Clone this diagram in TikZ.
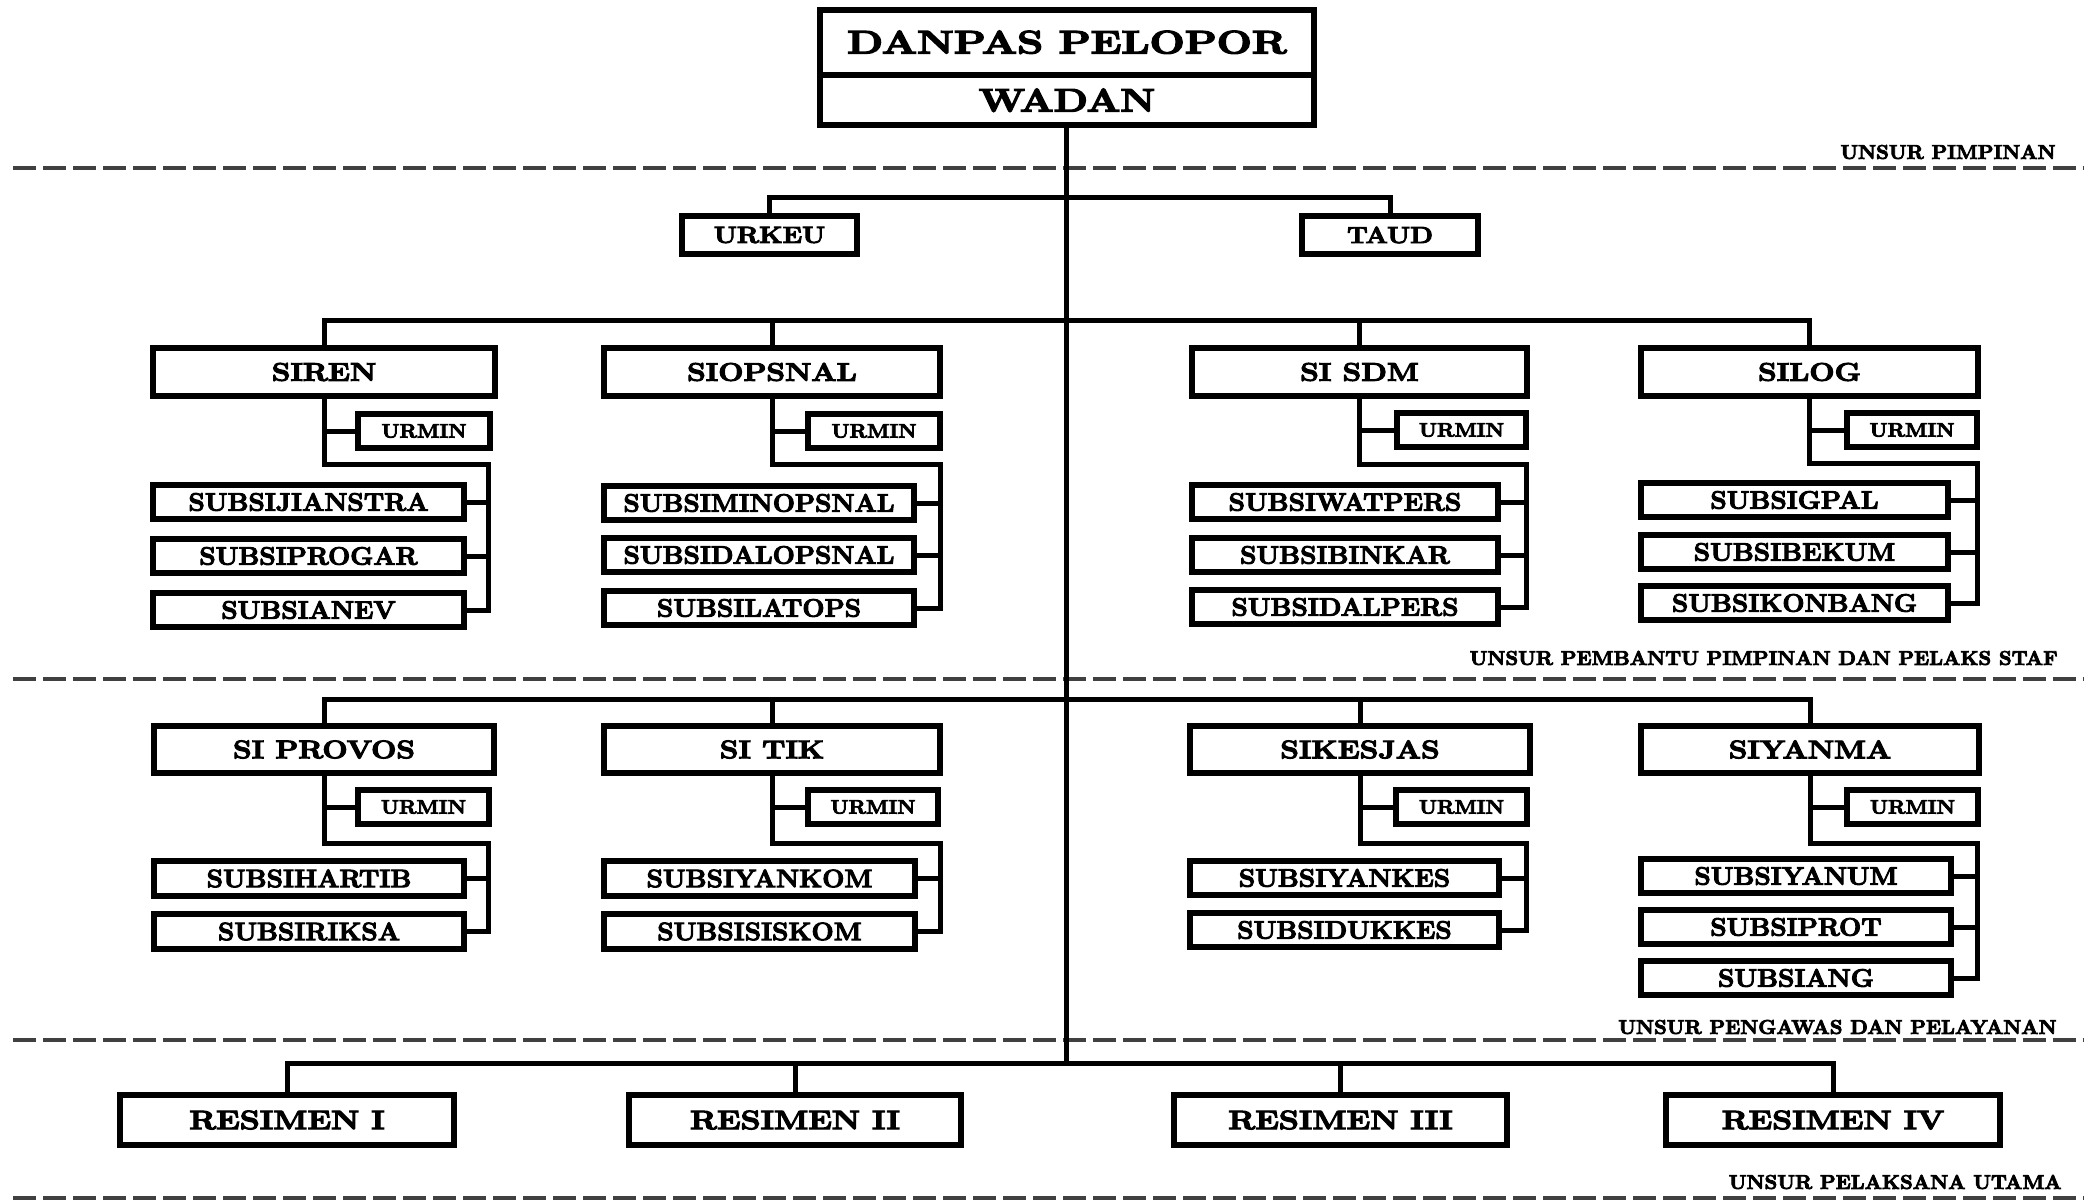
\documentclass[tikz,border=0pt]{standalone}
\usepackage{graphicx}
\usepackage{fontspec}
\setmainfont{Latin Modern Roman}[BoldFeatures={FakeBold=4}]
\newcommand{\xs}[2]{\scalebox{#1}[1]{#2}}
\tikzset{
  ln/.style={line width=2.5pt, line join=miter},
  boxst/.style={draw, line width=2.9pt, fill=white, inner sep=0pt, outer sep=0pt, align=center},
  topf/.style={font=\fontsize{16.25}{18}\selectfont\bfseries},
  headf/.style={font=\fontsize{12.75}{14}\selectfont\bfseries},
  subf/.style={font=\fontsize{12.6}{15}\selectfont\bfseries},
  urmf/.style={font=\fontsize{9.8}{12}\selectfont\bfseries},
  urkf/.style={font=\fontsize{11.65}{14}\selectfont\bfseries},
  resf/.style={font=\fontsize{13.35}{15}\selectfont\bfseries},
  labf/.style={font=\fontsize{10}{12}\selectfont\bfseries, anchor=east, inner sep=0pt},
  dashln/.style={draw=black!75, line width=1.75pt, dash pattern=on 11.25pt off 3.75pt}
}
\newcommand{\mkbox}[7]{%
  \pgfmathsetmacro\bxcx{(#2+#4)/2}\pgfmathsetmacro\bxcy{(#3+#5)/2}%
  \pgfmathsetmacro\bxw{(#4-#2-5.8)*0.5}\pgfmathsetmacro\bxh{(#5-#3-5.8)*0.5}%
  \node[boxst,#6,minimum width=\bxw pt,minimum height=\bxh pt] (#1) at (\bxcx,\bxcy) {#7};}
\newcommand{\hdtxt}[1]{\xs{1.17}{#1}}
\newcommand{\sbtxt}[1]{\xs{1.04}{#1}}
\newcommand{\rstxt}[1]{\xs{1.2}{#1}}
\begin{document}
\begin{tikzpicture}[x=0.5pt,y=-0.5pt]
\useasboundingbox (0,0) rectangle (2084,1201);
\fill[white] (0,0) rectangle (2084,1201);

% dashed separators
\draw[dashln] (13,168) -- (2084,168);
\draw[dashln] (13,679) -- (2084,679);
\draw[dashln] (13,1040) -- (2084,1040);
\draw[dashln] (13,1198) -- (2084,1198);
\node[labf] (lab1) at (2056,152) {UNSUR PIMPINAN};
\node[labf] (lab2) at (2058,658) {UNSUR PEMBANTU PIMPINAN DAN PELAKS STAF};
\node[labf] (lab3) at (2057,1027) {UNSUR PENGAWAS DAN PELAYANAN};
\node[labf] (lab4) at (2062,1182) {UNSUR PELAKSANA UTAMA};

% bars coordinates
\coordinate (bar0) at (1066,197);
\coordinate (bar1) at (1066,320);
\coordinate (bar2) at (1066,699);
\coordinate (bar3) at (1066,1063);

% main vertical (drawn first, boxes on top)
\coordinate (topbot) at (1066,126);
\draw[ln] (topbot) -- (bar3);

% top
\mkbox{danpas}{817}{7}{1317}{77.5}{topf}{\xs{1.28}{DANPAS PELOPOR}}
\mkbox{wadan}{817}{72.5}{1317}{128}{topf}{\xs{1.22}{WADAN}}

\mkbox{urkeu}{679}{213}{860}{257}{urkf}{\xs{1.14}{URKEU}}
\mkbox{taud}{1299}{213}{1481}{257}{urkf}{\xs{1.14}{TAUD}}
\draw[ln] (urkeu.north) |- (bar0) -| (taud.north);

% ===== Row 1 =====
\mkbox{siren}{150}{345}{498}{399}{headf}{\hdtxt{SIREN}}
\mkbox{siops}{601}{345}{943}{399}{headf}{\hdtxt{SIOPSNAL}}
\mkbox{sisdm}{1189}{345}{1530}{399}{headf}{\hdtxt{SI SDM}}
\mkbox{silog}{1638}{345}{1981}{399}{headf}{\hdtxt{SILOG}}
\draw[ln] (siren.north) |- (bar1) -| (silog.north);
\draw[ln] (siops.north) -- (siops.north |- bar1);
\draw[ln] (sisdm.north) -- (sisdm.north |- bar1);

% SIREN
\mkbox{sirenU}{355}{411}{493}{451}{urmf}{\sbtxt{URMIN}}
\mkbox{sirenA}{150}{482}{467}{522}{subf}{\sbtxt{SUBSIJIANSTRA}}
\mkbox{sirenB}{150}{536}{467}{576}{subf}{\sbtxt{SUBSIPROGAR}}
\mkbox{sirenC}{150}{590}{467}{630}{subf}{\sbtxt{SUBSIANEV}}
\coordinate (sirenK1) at (siren.south |- 0,464);
\coordinate (sirenK2) at (488,464);
\draw[ln] (siren.south) -- (sirenK1) -- (sirenK2) -- (sirenK2 |- sirenC.east) -- (sirenC.east);
\draw[ln] (sirenU.west) -- (sirenU.west -| siren.south);
\draw[ln] (sirenA.east) -- (sirenA.east -| sirenK2);
\draw[ln] (sirenB.east) -- (sirenB.east -| sirenK2);

% SIOPSNAL
\mkbox{siopsU}{805}{411}{943}{451}{urmf}{\sbtxt{URMIN}}
\mkbox{siopsA}{601}{483}{917}{523}{subf}{\sbtxt{SUBSIMINOPSNAL}}
\mkbox{siopsB}{601}{535}{917}{575}{subf}{\sbtxt{SUBSIDALOPSNAL}}
\mkbox{siopsC}{601}{588}{917}{628}{subf}{\sbtxt{SUBSILATOPS}}
\coordinate (siopsK1) at (siops.south |- 0,464);
\coordinate (siopsK2) at (940,464);
\draw[ln] (siops.south) -- (siopsK1) -- (siopsK2) -- (siopsK2 |- siopsC.east) -- (siopsC.east);
\draw[ln] (siopsU.west) -- (siopsU.west -| siops.south);
\draw[ln] (siopsA.east) -- (siopsA.east -| siopsK2);
\draw[ln] (siopsB.east) -- (siopsB.east -| siopsK2);

% SI SDM
\mkbox{sisdmU}{1394}{410}{1529}{450}{urmf}{\sbtxt{URMIN}}
\mkbox{sisdmA}{1189}{482}{1501}{522}{subf}{\sbtxt{SUBSIWATPERS}}
\mkbox{sisdmB}{1189}{535}{1501}{575}{subf}{\sbtxt{SUBSIBINKAR}}
\mkbox{sisdmC}{1189}{587}{1501}{627}{subf}{\sbtxt{SUBSIDALPERS}}
\coordinate (sisdmK1) at (sisdm.south |- 0,464);
\coordinate (sisdmK2) at (1526,464);
\draw[ln] (sisdm.south) -- (sisdmK1) -- (sisdmK2) -- (sisdmK2 |- sisdmC.east) -- (sisdmC.east);
\draw[ln] (sisdmU.west) -- (sisdmU.west -| sisdm.south);
\draw[ln] (sisdmA.east) -- (sisdmA.east -| sisdmK2);
\draw[ln] (sisdmB.east) -- (sisdmB.east -| sisdmK2);

% SILOG
\mkbox{silogU}{1844}{410}{1980}{450}{urmf}{\sbtxt{URMIN}}
\mkbox{silogA}{1638}{480}{1951}{520}{subf}{\sbtxt{SUBSIGPAL}}
\mkbox{silogB}{1638}{532}{1951}{572}{subf}{\sbtxt{SUBSIBEKUM}}
\mkbox{silogC}{1638}{583}{1951}{623}{subf}{\sbtxt{SUBSIKONBANG}}
\coordinate (silogK1) at (silog.south |- 0,463);
\coordinate (silogK2) at (1977,463);
\draw[ln] (silog.south) -- (silogK1) -- (silogK2) -- (silogK2 |- silogC.east) -- (silogC.east);
\draw[ln] (silogU.west) -- (silogU.west -| silog.south);
\draw[ln] (silogA.east) -- (silogA.east -| silogK2);
\draw[ln] (silogB.east) -- (silogB.east -| silogK2);

% ===== Row 2 =====
\mkbox{prov}{151}{723}{497}{776}{headf}{\hdtxt{SI PROVOS}}
\mkbox{tik}{601}{723}{943}{776}{headf}{\hdtxt{SI TIK}}
\mkbox{kes}{1187}{723}{1533}{776}{headf}{\hdtxt{SIKESJAS}}
\mkbox{yan}{1638}{723}{1982}{776}{headf}{\hdtxt{SIYANMA}}
\draw[ln] (prov.north) |- (bar2) -| (yan.north);
\draw[ln] (tik.north) -- (tik.north |- bar2);
\draw[ln] (kes.north) -- (kes.north |- bar2);

% SI PROVOS
\mkbox{provU}{355}{787}{492}{827}{urmf}{\sbtxt{URMIN}}
\mkbox{provA}{151}{858}{467}{899}{subf}{\sbtxt{SUBSIHARTIB}}
\mkbox{provB}{151}{911}{467}{952}{subf}{\sbtxt{SUBSIRIKSA}}
\coordinate (provK1) at (prov.south |- 0,843);
\coordinate (provK2) at (488,843);
\draw[ln] (prov.south) -- (provK1) -- (provK2) -- (provK2 |- provB.east) -- (provB.east);
\draw[ln] (provU.west) -- (provU.west -| prov.south);
\draw[ln] (provA.east) -- (provA.east -| provK2);

% SI TIK
\mkbox{tikU}{805}{787}{941}{827}{urmf}{\sbtxt{URMIN}}
\mkbox{tikA}{601}{858}{918}{899}{subf}{\sbtxt{SUBSIYANKOM}}
\mkbox{tikB}{601}{911}{918}{952}{subf}{\sbtxt{SUBSISISKOM}}
\coordinate (tikK1) at (tik.south |- 0,843);
\coordinate (tikK2) at (940,843);
\draw[ln] (tik.south) -- (tikK1) -- (tikK2) -- (tikK2 |- tikB.east) -- (tikB.east);
\draw[ln] (tikU.west) -- (tikU.west -| tik.south);
\draw[ln] (tikA.east) -- (tikA.east -| tikK2);

% SIKESJAS
\mkbox{kesU}{1393}{787}{1530}{827}{urmf}{\sbtxt{URMIN}}
\mkbox{kesA}{1187}{858}{1502}{898}{subf}{\sbtxt{SUBSIYANKES}}
\mkbox{kesB}{1187}{910}{1502}{950}{subf}{\sbtxt{SUBSIDUKKES}}
\coordinate (kesK1) at (kes.south |- 0,843);
\coordinate (kesK2) at (1526,843);
\draw[ln] (kes.south) -- (kesK1) -- (kesK2) -- (kesK2 |- kesB.east) -- (kesB.east);
\draw[ln] (kesU.west) -- (kesU.west -| kes.south);
\draw[ln] (kesA.east) -- (kesA.east -| kesK2);

% SIYANMA
\mkbox{yanU}{1844}{787}{1981}{827}{urmf}{\sbtxt{URMIN}}
\mkbox{yanA}{1638}{856}{1954}{896}{subf}{\sbtxt{SUBSIYANUM}}
\mkbox{yanB}{1638}{907}{1954}{947}{subf}{\sbtxt{SUBSIPROT}}
\mkbox{yanC}{1638}{958}{1954}{998}{subf}{\sbtxt{SUBSIANG}}
\coordinate (yanK1) at (yan.south |- 0,843);
\coordinate (yanK2) at (1977,843);
\draw[ln] (yan.south) -- (yanK1) -- (yanK2) -- (yanK2 |- yanC.east) -- (yanC.east);
\draw[ln] (yanU.west) -- (yanU.west -| yan.south);
\draw[ln] (yanA.east) -- (yanA.east -| yanK2);
\draw[ln] (yanB.east) -- (yanB.east -| yanK2);

% ===== Resimen =====
\mkbox{res1}{117}{1092}{457}{1148}{resf}{\rstxt{RESIMEN I}}
\mkbox{res2}{626}{1092}{964}{1148}{resf}{\rstxt{RESIMEN II}}
\mkbox{res3}{1171}{1092}{1510}{1148}{resf}{\rstxt{RESIMEN III}}
\mkbox{res4}{1663}{1092}{2003}{1148}{resf}{\rstxt{RESIMEN IV}}
\draw[ln] (res1.north) |- (bar3) -| (res4.north);
\draw[ln] (res2.north) -- (res2.north |- bar3);
\draw[ln] (res3.north) -- (res3.north |- bar3);
\end{tikzpicture}
\end{document}
